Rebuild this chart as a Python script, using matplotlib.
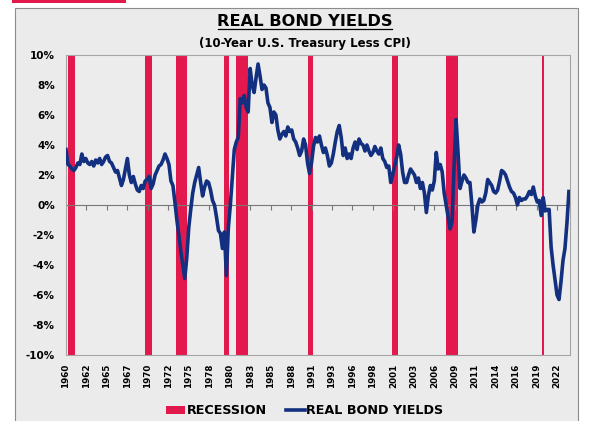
import matplotlib.pyplot as plt
import numpy as np
from matplotlib.lines import Line2D
from matplotlib.patches import Patch, Rectangle

# quarterly real 10y yield (%), Q1 1960 .. Q3 2023
real_yield = [
    3.7, 2.7, 2.6, 2.4,   2.3, 2.5, 2.8, 2.7,   3.4, 2.9, 3.1, 2.8,   2.7, 2.9, 2.6, 3.0,  # 60-63
    2.8, 3.1, 2.7, 2.9,   3.2, 3.3, 2.9, 2.8,   2.5, 2.2, 2.3, 1.8,   1.3, 1.7, 2.4, 3.1,  # 64-67
    2.0, 1.5, 1.9, 1.4,   1.0, 0.9, 1.3, 1.1,   1.6, 1.7, 1.9, 1.1,   1.4, 2.0, 2.3, 2.6,  # 68-71
    2.7, 3.0, 3.4, 3.1,   2.7, 1.6, 1.3, 0.2,  -1.0, -2.0, -3.1, -4.0, -4.9, -3.5, -1.5, -0.3,  # 72-75
    0.8, 1.5, 2.0, 2.5,   1.5, 0.6, 1.2, 1.6,   1.5, 1.0, 0.3, 0.0,  -0.8, -1.7, -1.9, -2.9,  # 76-79
    -1.8, -4.7, -1.5, 0.0, 1.8, 3.7, 4.2, 4.5,   7.1, 6.8, 7.3, 6.5,   6.2, 9.1, 8.0, 7.5,  # 80-83
    8.5, 9.4, 8.6, 7.7,   8.0, 7.8, 6.8, 6.5,   5.5, 6.2, 6.0, 5.0,   4.4, 4.7, 4.9, 4.6,  # 84-87
    5.2, 4.9, 5.0, 4.4,   4.2, 3.8, 3.3, 3.6,   4.4, 4.0, 2.8, 2.1,   2.8, 3.9, 4.5, 4.2,  # 88-91
    4.6, 4.0, 3.5, 3.8,   3.3, 2.6, 2.8, 3.4,   4.2, 4.9, 5.3, 4.5,   3.3, 3.8, 3.1, 3.4,  # 92-95
    3.1, 3.8, 4.2, 3.7,   4.4, 4.1, 4.0, 3.6,   4.0, 3.6, 3.3, 3.5,   3.9, 3.6, 3.4, 3.8,  # 96-99
    3.1, 2.9, 2.5, 2.6,   1.5, 2.0, 2.6, 3.2,   4.0, 3.4, 2.2, 1.5,   1.5, 2.0, 2.4, 2.2,  # 00-03
    2.0, 1.5, 1.8, 1.1,   1.5, 0.8, -0.5, 0.6,  1.3, 1.0, 1.6, 3.5,   2.4, 2.7, 2.2, 0.8,  # 04-07
    0.0, -0.8, -1.6, -1.1, 2.6, 5.7, 3.5, 1.1,  1.6, 2.0, 1.8, 1.5,   1.5, 0.0, -1.8, -1.0,  # 08-11
    0.0, 0.4, 0.2, 0.3,   0.8, 1.7, 1.5, 1.3,   0.9, 0.8, 1.0, 1.6,   2.3, 2.2, 2.0, 1.6,  # 12-15
    1.2, 0.9, 0.8, 0.5,   0.0, 0.5, 0.3, 0.4,   0.4, 0.6, 0.9, 0.7,   1.2, 0.6, 0.2, 0.3,  # 16-19
    -0.7, 0.5, -0.4, -0.3, -0.3, -2.8, -4.0, -5.0, -6.0, -6.3, -5.1, -3.7, -2.9, -1.2, 0.9,  # 20-23
]

rec_start = [1960.25, 1969.92, 1973.83, 1980.0, 1981.5, 1990.5, 2001.17, 2007.92, 2020.08]
rec_end = [1961.17, 1970.92, 1975.25, 1980.58, 1982.92, 1991.25, 2001.92, 2009.5, 2020.33]

x_labels = ["1960", "1962", "1965", "1967", "1970", "1972", "1975", "1978", "1980",
            "1983", "1985", "1988", "1991", "1993", "1996", "1998", "2001", "2003",
            "2006", "2009", "2011", "2014", "2016", "2019", "2022"]

RED = "#e3194d"
NAVY = "#12307f"
BG = "#ebebeb"

plt.rcParams["font.family"] = "DejaVu Sans"
plt.rcParams["font.weight"] = "bold"

fig = plt.figure(figsize=(5.95, 4.21), dpi=100)
fig.patch.set_facecolor("white")
fig.patches.append(Rectangle((15 / 595, -0.05), 563 / 595, 1.05 - 8 / 421,
                             transform=fig.transFigure, facecolor=BG,
                             edgecolor="#8c8c8c", linewidth=0.8, zorder=-3))
fig.patches.append(Rectangle((12 / 595, 1 - 2.5 / 421), 114 / 595, 2.5 / 421,
                             transform=fig.transFigure, facecolor=RED,
                             edgecolor="none", zorder=-2))

ax = fig.add_axes([66 / 595, 1 - 355 / 421, 504 / 595, 300 / 421])
ax.set_facecolor("#ececec")

for s, e in zip(rec_start, rec_end):
    ax.axvspan(s, e, color=RED, linewidth=0, zorder=1)

t = 1960 + np.arange(len(real_yield)) / 4
ax.plot(t, real_yield, color=NAVY, linewidth=2.6, zorder=3, solid_joinstyle="round")

ticks = 1960 + np.arange(len(x_labels)) * 31 / 12
ax.axhline(0, color="#777777", linewidth=0.8, zorder=2)
ax.vlines(ticks, -0.3, 0, color="#777777", linewidth=0.8, zorder=2)

ax.set_xlim(1960, 1960 + 504 / 7.92)
ax.set_ylim(-10, 10)
ax.set_yticks(np.arange(-10, 11, 2))
ax.set_yticklabels([f"{v}%" for v in range(-10, 11, 2)], fontsize=7.5, fontweight="bold")
ax.set_xticks(ticks)
ax.set_xticklabels(x_labels, rotation=90, fontsize=6.3, fontweight="bold")
ax.tick_params(axis="both", length=0, pad=6)
ax.tick_params(axis="y", pad=8)
for sp in ax.spines.values():
    sp.set_color("#a5a5a5")
    sp.set_linewidth(0.8)

fig.text(0.513, 1 - 21 / 421, "REAL BOND YIELDS", ha="center", va="center",
         fontsize=11.7, fontweight="bold")
title_line_y = 1 - 29 / 421
fig.add_artist(Line2D([218 / 595, 392 / 595], [title_line_y, title_line_y],
                      transform=fig.transFigure, color="black", linewidth=0.9))
fig.text(0.513, 1 - 43 / 421, "(10-Year U.S. Treasury Less CPI)", ha="center",
         va="center", fontsize=8.5, fontweight="bold")

handles = [Patch(facecolor=RED, edgecolor="none"),
           Line2D([0], [0], color=NAVY, linewidth=2.6)]
fig.legend(handles, ["RECESSION", "REAL BOND YIELDS"], loc="center",
           bbox_to_anchor=(0.512, 1 - 411 / 421), ncol=2, frameon=False,
           handlelength=1.5, handleheight=0.5, handletextpad=0.1,
           columnspacing=1.5, prop={"weight": "bold", "size": 9.2})

fig.savefig("out.png", dpi=100, facecolor="white")
